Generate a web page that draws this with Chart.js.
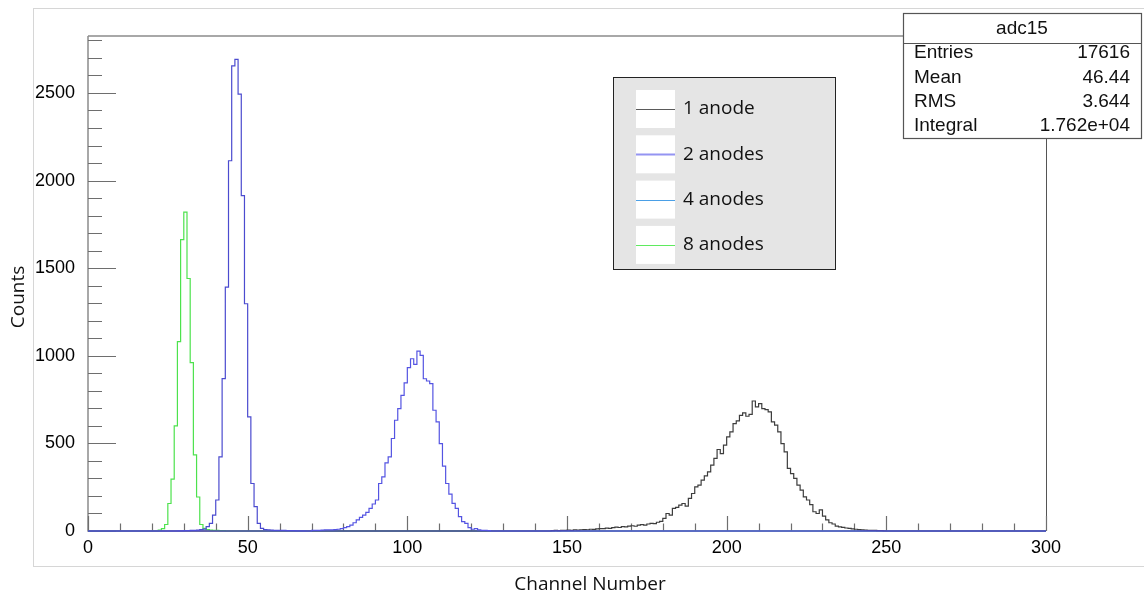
<!DOCTYPE html>
<html>
<head>
<meta charset="utf-8">
<script src="https://cdn.jsdelivr.net/npm/chart.js@4.4.0/dist/chart.umd.min.js"></script>
<style>
  html, body { margin: 0; padding: 0; background: #fff; }
  #wrap { position: relative; width: 1144px; height: 598px; }
</style>
</head>
<body>
<div id="wrap"><canvas id="adc"></canvas></div>
<script>
// ADC spectra, one channel per bin. Each list starts at its first filled channel.
const nBins = 300;

const oneAnodeStart = 146;
const oneAnodeCounts = [
  2, 3, 2, 4, 3, 5, 4, 6, 5, 7,
  8, 7, 10, 9, 12, 14, 13, 16, 15, 19,
  22, 20, 25, 24, 28, 30, 27, 33, 36, 34,
  40, 44, 42, 50, 55,
  72, 100, 91, 129, 135, 148, 157, 142, 186, 214,
  252, 262, 290, 315, 338, 376, 414, 465, 442, 490,
  537, 566, 613, 628, 660, 674, 655, 666, 742, 708,
  727, 698, 693, 680, 623, 604, 566, 499, 452, 357,
  328, 300, 262, 233, 195, 177, 150, 110, 100, 120,
  85, 63, 47, 40, 28, 24, 21, 17, 15, 12,
  10, 8, 6, 5, 4, 3, 3, 2, 2, 1
];

const twoAnodesStart = 71;
const twoAnodesCounts = [
  3, 4, 4, 5, 6, 6, 6, 8, 10, 13,
  19, 25, 34, 47, 63, 78, 91, 106, 129, 154,
  177, 271, 309, 389, 423, 528, 632, 698, 774, 845,
  932, 983, 951, 1027, 1002, 869, 856, 841, 689, 623,
  499, 370, 271, 211, 158, 129, 82, 53, 44, 19,
  10, 13, 6, 4, 3, 2
];

const fourAnodesStart = 29;
const fourAnodesCounts = [
  1, 1, 2, 2, 3, 4, 5, 8, 11, 25,
  44, 91, 177, 423, 870, 1392, 2113, 2654, 2692, 2493,
  1914, 1297, 651, 271, 139, 44, 15, 8, 6, 5,
  4, 4, 3, 3, 2, 2, 2, 1, 1, 1
];

const eightAnodesStart = 23;
const eightAnodesCounts = [
  5, 13, 37, 157, 296, 600, 1081, 1663, 1820, 1441,
  961, 434, 194, 37, 15, 8, 5, 4, 3, 2, 2
];

const xTicks = [0, 50, 100, 150, 200, 250, 300];
const yTicks = [0, 500, 1000, 1500, 2000, 2500];
const legendLabels = ['1 anode', '2 anodes', '4 anodes', '8 anodes'];
const statsTitle = 'adc15';
const statsNames = ['Entries', 'Mean', 'RMS', 'Integral'];
const statsValues = ['17616', '46.44', '3.644', '1.762e+04'];

const legendColors = ['#5a5a5a', '#9494f2', '#4a9fe6', '#5fea5f'];
const tickFont = { family: '"Liberation Sans", Arial, sans-serif', size: 18 };
const titleFont = '19px "Open Sans", sans-serif';

// fill all 300 bins, then close the last step at the upper edge
function histPoints(start, counts) {
  const bins = new Array(nBins).fill(0);
  counts.forEach((c, i) => { bins[start + i] = c; });
  const pts = bins.map((c, i) => ({ x: i, y: c }));
  pts.push({ x: nBins, y: bins[nBins - 1] });
  return pts;
}

function histSet(label, start, counts, color) {
  return {
    label: label,
    data: histPoints(start, counts),
    borderColor: color,
    borderWidth: 1.2,
    pointRadius: 0,
    stepped: 'after',
    fill: false,
    clip: false
  };
}

// axes frame, inside ticks, legend box, stats box and axis titles
const rootStyle = {
  id: 'rootStyle',
  beforeDraw(chart) {
    const ctx = chart.ctx;
    ctx.save();
    ctx.fillStyle = '#fff';
    ctx.fillRect(0, 0, chart.width, chart.height);
    ctx.strokeStyle = '#d6d6d6';
    ctx.lineWidth = 1;
    ctx.strokeRect(33.5, 8.5, 1200, 558);
    ctx.restore();
  },
  beforeDatasetsDraw(chart) {
    const ctx = chart.ctx;
    const a = chart.chartArea;
    const xs = chart.scales.x, ys = chart.scales.y;
    ctx.save();
    ctx.strokeStyle = '#8c8c8c';
    ctx.lineWidth = 1.5;
    ctx.beginPath();
    ctx.moveTo(a.left, a.top); ctx.lineTo(a.right, a.top);
    ctx.moveTo(a.left, a.top); ctx.lineTo(a.left, a.bottom);
    ctx.lineTo(a.right, a.bottom);
    ctx.stroke();
    ctx.strokeStyle = '#555';
    ctx.lineWidth = 1;
    ctx.beginPath();
    ctx.moveTo(a.right + 0.5, a.top); ctx.lineTo(a.right + 0.5, a.bottom);
    ctx.stroke();

    ctx.strokeStyle = '#6e6e6e';
    ctx.lineWidth = 1.2;
    ctx.beginPath();
    for (let v = 0; v <= 300; v += 10) {
      const px = Math.round(xs.getPixelForValue(v)) + 0.5;
      const len = v % 50 === 0 ? 15 : 7.5;
      ctx.moveTo(px, a.bottom); ctx.lineTo(px, a.bottom - len);
    }
    for (let v = 0; v <= ys.max; v += 100) {
      const py = Math.round(ys.getPixelForValue(v)) + 0.5;
      const len = v % 500 === 0 ? 28 : 14;
      ctx.moveTo(a.left, py); ctx.lineTo(a.left + len, py);
    }
    ctx.stroke();
    ctx.restore();
  },
  afterDraw(chart) {
    const ctx = chart.ctx;
    ctx.save();

    // legend
    ctx.fillStyle = '#e5e5e5';
    ctx.fillRect(613, 77, 223, 193);
    ctx.strokeStyle = '#222';
    ctx.lineWidth = 1;
    ctx.strokeRect(613.5, 77.5, 222, 192);
    ctx.font = titleFont;
    ctx.textBaseline = 'middle';
    ctx.textAlign = 'left';
    legendLabels.forEach((lab, i) => {
      const cy = 109 + i * 45.3;
      ctx.fillStyle = '#fff';
      ctx.fillRect(636, cy - 19, 39, 38);
      ctx.strokeStyle = legendColors[i];
      ctx.lineWidth = i === 1 ? 1.8 : 1.2;
      ctx.beginPath();
      ctx.moveTo(636, Math.round(cy) + 0.5); ctx.lineTo(675, Math.round(cy) + 0.5);
      ctx.stroke();
      ctx.fillStyle = '#111';
      ctx.fillText(lab, 683, cy);
    });

    // statistics box
    ctx.fillStyle = '#fff';
    ctx.fillRect(903, 13, 239, 126);
    ctx.strokeStyle = '#555';
    ctx.strokeRect(903.5, 13.5, 238, 125);
    ctx.beginPath();
    ctx.moveTo(903, 43.5); ctx.lineTo(1142, 43.5);
    ctx.stroke();
    ctx.fillStyle = '#111';
    ctx.font = '19px "Liberation Sans", Arial, sans-serif';
    ctx.textAlign = 'center';
    ctx.fillText(statsTitle, 1022, 29);
    statsNames.forEach((name, i) => {
      const cy = 53 + i * 24.3;
      ctx.textAlign = 'left';
      ctx.fillText(name, 914, cy);
      ctx.textAlign = 'right';
      ctx.fillText(statsValues[i], 1130, cy);
    });

    // axis titles
    ctx.font = titleFont;
    ctx.fillStyle = '#111';
    ctx.textAlign = 'center';
    ctx.fillText('Channel Number', 590, 585);
    ctx.translate(19, 297);
    ctx.rotate(-Math.PI / 2);
    ctx.fillText('Counts', 0, 0);
    ctx.restore();
  }
};

new Chart(document.getElementById('adc'), {
  type: 'line',
  data: {
    datasets: [
      histSet('2 anodes', twoAnodesStart, twoAnodesCounts, '#5454e2'),
      histSet('4 anodes', fourAnodesStart, fourAnodesCounts, '#4b4bcf'),
      histSet('1 anode', oneAnodeStart, oneAnodeCounts, '#3d3d3d'),
      histSet('8 anodes', eightAnodesStart, eightAnodesCounts, '#4de24d')
    ]
  },
  options: {
    responsive: true,
    maintainAspectRatio: false,
    animation: false,
    events: [],
    layout: { padding: { left: 0, top: 36, right: 98, bottom: 0 } },
    plugins: { legend: { display: false }, tooltip: { enabled: false } },
    scales: {
      x: {
        type: 'linear',
        min: 0,
        max: 300,
        afterBuildTicks: s => { s.ticks = xTicks.map(v => ({ value: v })); },
        afterFit: s => { s.height = 67; },
        grid: { display: false, drawTicks: false },
        border: { display: false },
        ticks: {
          autoSkip: false, maxRotation: 0, padding: 6, color: '#000',
          font: tickFont, callback: v => String(v)
        }
      },
      y: {
        type: 'linear',
        min: 0,
        max: 2825,
        afterBuildTicks: s => { s.ticks = yTicks.map(v => ({ value: v })); },
        afterFit: s => { s.width = 88; },
        grid: { display: false, drawTicks: false },
        border: { display: false },
        ticks: {
          padding: 13, color: '#000',
          font: tickFont, callback: v => String(v)
        }
      }
    }
  },
  plugins: [rootStyle]
});
</script>
</body>
</html>
